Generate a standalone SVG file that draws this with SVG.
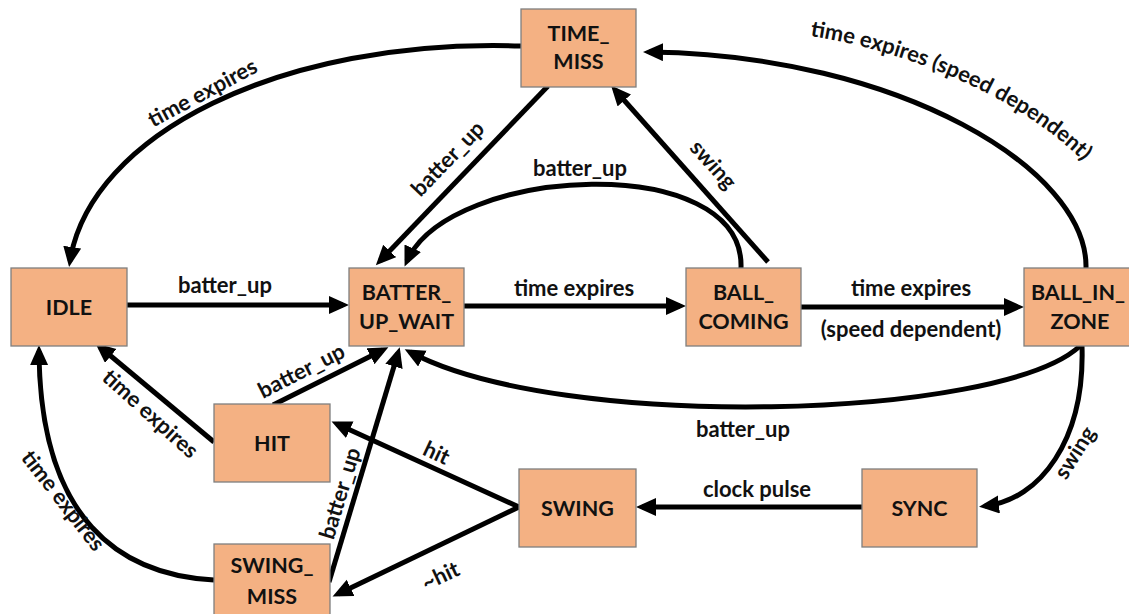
<svg xmlns="http://www.w3.org/2000/svg" width="1129" height="614" viewBox="0 0 1129 614">
  <style>
    .box { fill: #F4B183; stroke: #7F7F7F; stroke-width: 1.3; }
    .name { font-family: Lato, "Liberation Sans", sans-serif; font-weight: bold; font-size: 21.5px; fill: #111; text-anchor: middle; }
    .edge { fill: none; stroke: #000; stroke-width: 5; marker-end: url(#arrow); }
    .lbl { font-family: Lato, "Liberation Sans", sans-serif; font-weight: bold; font-size: 22px; fill: #111; text-anchor: middle; dominant-baseline: central; }
  </style>
  <defs>
    <marker id="arrow" markerUnits="userSpaceOnUse" markerWidth="22" markerHeight="20" refX="14" refY="9" orient="auto">
      <path d="M0,0 L20,9 L0,18 Z" fill="#000"/>
    </marker>
    <path id="speedArc" d="M810,36 C880,46 1010,85 1088,166"/>
  </defs>
  <rect width="1129" height="614" fill="#fff"/>

  <!-- transitions -->
  <g id="connectors">
    <path class="edge" d="M521,46 C280,38 90,135 70,261"/>
    <path class="edge" d="M548,86 L380,261"/>
    <path class="edge" d="M741,268 C745,150 450,165 407,261"/>
    <path class="edge" d="M768,262 L615,90"/>
    <path class="edge" d="M1086,268 C1088,170 900,55 649,52"/>
    <path class="edge" d="M127,305 L343,305"/>
    <path class="edge" d="M464,306 L680,306"/>
    <path class="edge" d="M801,307 L1018,307"/>
    <path class="edge" d="M1080,346 C1000,420 560,432 410,352"/>
    <path class="edge" d="M1082,346 C1085,440 1040,500 985,506"/>
    <path class="edge" d="M862,507 L642,507"/>
    <path class="edge" d="M519,507 L337,424"/>
    <path class="edge" d="M519,507 L338,594"/>
    <path class="edge" d="M214,442 L100,347"/>
    <path class="edge" d="M273,405 L383,350"/>
    <path class="edge" d="M329,582 L398,353"/>
    <path class="edge" d="M214,580 C120,575 40,520 39,351"/>

    <text class="lbl" transform="translate(202,92) rotate(-28)">time expires</text>
    <text class="lbl" transform="translate(447,158) rotate(-46)">batter_up</text>
    <text class="lbl" x="580" y="167">batter_up</text>
    <text class="lbl" transform="translate(714,164) rotate(48)">swing</text>
    <text class="lbl" style="dominant-baseline:auto; text-anchor:start"><textPath href="#speedArc" textLength="305" lengthAdjust="spacing">time expires (speed dependent)</textPath></text>
    <text class="lbl" x="225" y="284">batter_up</text>
    <text class="lbl" x="574" y="287">time expires</text>
    <text class="lbl" x="911" y="287">time expires</text>
    <text class="lbl" x="911" y="328">(speed dependent)</text>
    <text class="lbl" x="743" y="428">batter_up</text>
    <text class="lbl" transform="translate(1074,452) rotate(-58)">swing</text>
    <text class="lbl" x="757" y="488">clock pulse</text>
    <text class="lbl" transform="translate(437,452) rotate(25)">hit</text>
    <text class="lbl" transform="translate(440,575) rotate(-25)">~hit</text>
    <text class="lbl" transform="translate(151,413) rotate(42)">time expires</text>
    <text class="lbl" transform="translate(301,370) rotate(-27)">batter_up</text>
    <text class="lbl" transform="translate(339,493) rotate(-73)">batter_up</text>
    <text class="lbl" transform="translate(64,500) rotate(52)">time expires</text>
  </g>

  <!-- states -->
  <g id="time_miss">
    <rect class="box" x="521" y="9" width="115" height="78"/>
    <text class="name" x="578.5" y="40.5">TIME_</text>
    <text class="name" x="578.5" y="68.5">MISS</text>
  </g>
  <g id="idle">
    <rect class="box" x="11" y="268" width="116" height="78"/>
    <text class="name" x="69" y="314.5">IDLE</text>
  </g>
  <g id="batter_up_wait">
    <rect class="box" x="349" y="268" width="115" height="78"/>
    <text class="name" x="406.5" y="299.5">BATTER_</text>
    <text class="name" x="406.5" y="328.5">UP_WAIT</text>
  </g>
  <g id="ball_coming">
    <rect class="box" x="686" y="268" width="115" height="78"/>
    <text class="name" x="743.5" y="299.5">BALL_</text>
    <text class="name" x="743.5" y="328.5">COMING</text>
  </g>
  <g id="ball_in_zone">
    <rect class="box" x="1024" y="268" width="115" height="78"/>
    <text class="name" x="1078" y="299.5">BALL_IN_</text>
    <text class="name" x="1080" y="328.5">ZONE</text>
  </g>
  <g id="hit">
    <rect class="box" x="214" y="404" width="116" height="78"/>
    <text class="name" x="272" y="450.5">HIT</text>
  </g>
  <g id="swing">
    <rect class="box" x="519" y="469" width="117" height="78"/>
    <text class="name" x="577.5" y="515.5">SWING</text>
  </g>
  <g id="sync">
    <rect class="box" x="862" y="469" width="115" height="78"/>
    <text class="name" x="919.5" y="515.5">SYNC</text>
  </g>
  <g id="swing_miss">
    <rect class="box" x="214" y="544" width="116" height="78"/>
    <text class="name" x="272" y="572.5">SWING_</text>
    <text class="name" x="272" y="603.5">MISS</text>
  </g>
</svg>
